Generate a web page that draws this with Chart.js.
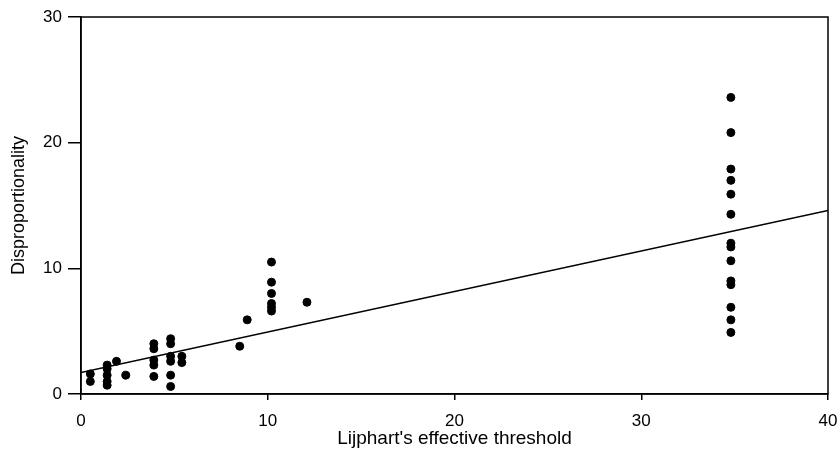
<!DOCTYPE html>
<html>
<head>
<meta charset="utf-8">
<script src="https://cdn.jsdelivr.net/npm/chart.js@4.4.0/dist/chart.umd.min.js"></script>
<style>
  html, body { margin: 0; padding: 0; background: #fff; }
  #wrap { width: 839px; height: 454px; }
</style>
</head>
<body>
<div id="wrap"><canvas id="myChart"></canvas></div>
<script>
// threshold (x) and disproportionality (y) for each observation
let thresholdX = [
    0.5, 0.5,
    1.4, 1.4, 1.4, 1.4, 1.4,
    1.9, 2.4,
    3.9, 3.9, 3.9, 3.9, 3.9,
    4.8, 4.8, 4.8, 4.8, 4.8, 4.8,
    5.4, 5.4,
    8.5, 8.9,
    10.2, 10.2, 10.2, 10.2, 10.2, 10.2,
    12.1,
    34.8, 34.8, 34.8, 34.8, 34.8, 34.8, 34.8, 34.8, 34.8, 34.8, 34.8, 34.8, 34.8, 34.8
];
let disproY = [
    1.6, 1.0,
    2.3, 2.0, 1.5, 1.0, 0.7,
    2.6, 1.5,
    4.0, 3.6, 2.7, 2.3, 1.4,
    4.4, 4.0, 3.0, 2.6, 1.5, 0.6,
    3.0, 2.5,
    3.8, 5.9,
    10.5, 8.9, 8.0, 7.2, 6.9, 6.6,
    7.3,
    23.6, 20.8, 17.9, 17.0, 15.9, 14.3, 12.0, 11.7, 10.6, 9.0, 8.7, 6.9, 5.9, 4.9
];
// fitted line ends
let fitX = [0, 40];
let fitY = [1.7, 14.6];

let xTicks = [0, 10, 20, 30, 40];
let yTicks = [0, 10, 20, 30];

let points = thresholdX.map((x, i) => ({x: x, y: disproY[i]}));
let fitLine = fitX.map((x, i) => ({x: x, y: fitY[i]}));

const fontFam = '"Liberation Sans", Arial, Helvetica, sans-serif';

// box round the plot area
const frame = {
    id: 'frame',
    afterDraw(chart) {
        const a = chart.chartArea;
        const c = chart.ctx;
        c.save();
        c.strokeStyle = '#000';
        c.lineWidth = 1.5;
        c.strokeRect(a.left, a.top, a.right - a.left, a.bottom - a.top);
        c.restore();
    }
};

let myChart = document.getElementById("myChart").getContext('2d');
let scatter = new Chart(myChart, {
    type: 'scatter',
    data: {
        datasets: [{
            label: 'Observations',
            data: points,
            backgroundColor: '#000',
            borderColor: '#000',
            pointRadius: 4,
            pointHoverRadius: 4,
            order: 1
        }, {
            type: 'line',
            label: 'Fit',
            data: fitLine,
            borderColor: '#000',
            borderWidth: 1.5,
            pointRadius: 0,
            fill: false,
            order: 2
        }]
    },
    options: {
        responsive: true,
        maintainAspectRatio: false,
        animation: false,
        layout: { padding: { top: 17, right: 11, left: 0, bottom: 0 } },
        plugins: {
            legend: { display: false },
            tooltip: { enabled: false }
        },
        scales: {
            x: {
                type: 'linear',
                min: 0,
                max: 40,
                afterBuildTicks: s => { s.ticks = xTicks.map(v => ({value: v})); },
                afterFit: s => { s.height = 60; s.paddingLeft = 0; s.paddingRight = 0; },
                grid: { drawOnChartArea: false, color: '#000', tickLength: 6, lineWidth: 1.5 },
                border: { color: '#000', width: 1.5 },
                ticks: { color: '#000', font: { family: fontFam, size: 17 }, padding: 11, maxRotation: 0 },
                title: { display: true, text: "Lijphart's effective threshold", color: '#000',
                         font: { family: fontFam, size: 19 }, padding: { top: 0, bottom: 4 } }
            },
            y: {
                type: 'linear',
                min: 0,
                max: 30,
                afterBuildTicks: s => { s.ticks = yTicks.map(v => ({value: v})); },
                afterFit: s => { s.width = 81; s.paddingTop = 0; s.paddingBottom = 0; },
                grid: { drawOnChartArea: false, color: '#000', tickLength: 13, lineWidth: 1.5 },
                border: { color: '#000', width: 1.5 },
                ticks: { color: '#000', font: { family: fontFam, size: 17 }, padding: 6 },
                title: { display: true, text: 'Disproportionality', color: '#000',
                         font: { family: fontFam, size: 18 }, padding: { top: 8, bottom: 0 } }
            }
        }
    },
    plugins: [frame]
});
</script>
</body>
</html>
